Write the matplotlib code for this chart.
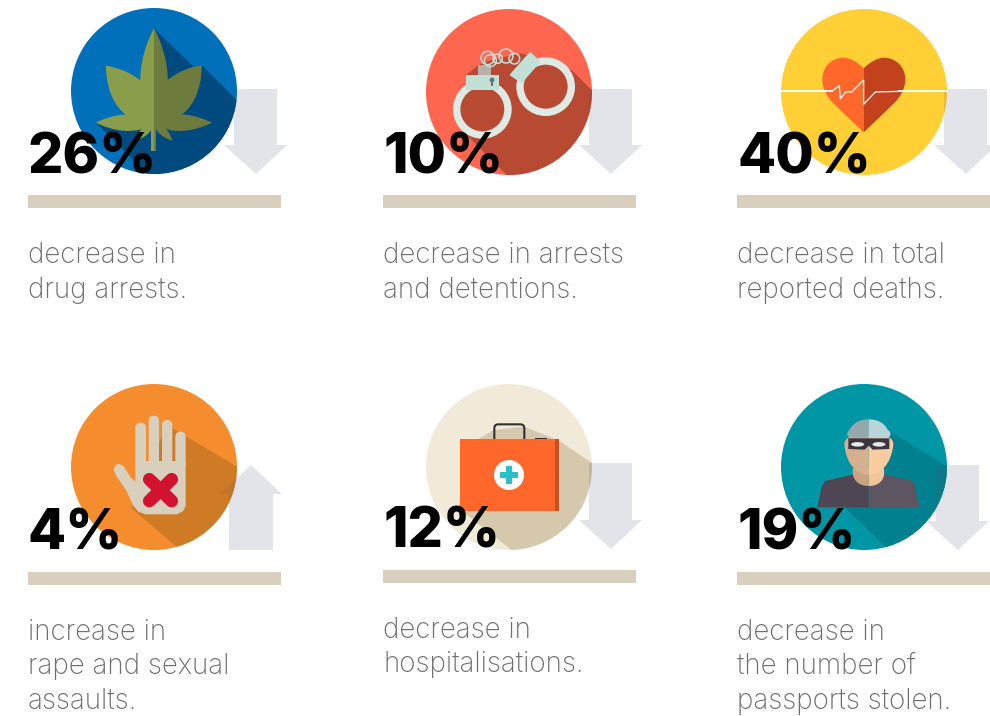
import matplotlib
matplotlib.use("Agg")
import matplotlib.pyplot as plt
from matplotlib.patches import Circle, Polygon, Rectangle, FancyBboxPatch, PathPatch, Ellipse
from matplotlib.path import Path

percents = ["26%", "10%", "40%", "4%", "12%", "19%"]
directions = ["down", "down", "down", "up", "down", "down"]
labels = [
    ["decrease in", "drug arrests."],
    ["decrease in arrests", "and detentions."],
    ["decrease in total", "reported deaths."],
    ["increase in", "rape and sexual", "assaults."],
    ["decrease in", "hospitalisations."],
    ["decrease in", "the number of", "passports stolen."],
]
circle_colors = ["#0070bb", "#ff6650", "#ffcf36", "#f58d2e", "#f2ead9", "#0096a6"]
shadow_colors = ["#004a80", "#b84a33", None, "#cf7a25", "#d6c8ad", "#01808f"]

BAR = "#d8cfbc"
ARROW = "#e3e4e9"
TEXT = "#6f6f71"
LIGHT = dict(family="Inter", weight=200)
HEAVY = dict(family="Inter", weight=800)

fig = plt.figure(figsize=(9.9, 7.16), dpi=100)
ax = fig.add_axes([0, 0, 1, 1])
ax.set_xlim(0, 990)
ax.set_ylim(716, 0)
ax.axis("off")

centers = [(154, 91), (509, 92), (864, 92), (154, 467), (509, 467), (864, 467)]
bars = [(28, 195), (383, 195), (737, 195), (28, 572), (383, 570), (737, 572)]
arrows = [(256, 89, 174), (611, 89, 174), (966, 89, 174), (251, 550, 465), (611, 463, 549), (958, 465, 550)]
zoom_orig = [(20, 0), (375, 0), (730, 0), (20, 375), (375, 375), (730, 375)]
baselines = [[263, 298], [263, 298], [263, 298], [640, 674, 709], [638, 672], [640, 674, 709]]
pct_base = [174, 174, 174, 550, 548, 550]
R = 83


def Z(i, pts):
    ox, oy = zoom_orig[i]
    return [(ox + x / 3, oy + y / 3) for x, y in pts]


def poly(i, pts, color, clip=None, z=3):
    p = Polygon(Z(i, pts), closed=True, fc=color, ec="none", zorder=z)
    ax.add_patch(p)
    if clip is not None:
        p.set_clip_path(clip)
    return p


def curve(i, verts, color, clip=None, z=3):
    pts = Z(i, verts)
    codes = [Path.MOVETO] + [Path.CURVE4] * (len(pts) - 1)
    pts = pts + [pts[0]]
    codes = codes + [Path.CLOSEPOLY]
    p = PathPatch(Path(pts, codes), fc=color, ec="none", zorder=z)
    ax.add_patch(p)
    if clip is not None:
        p.set_clip_path(clip)
    return p


def leaflet(base, tip, w):
    bx, by = base
    tx, ty = tip
    dx, dy = tx - bx, ty - by
    L = (dx * dx + dy * dy) ** 0.5
    nx, ny = -dy / L, dx / L
    a1 = (bx + .3 * dx + nx * w, by + .3 * dy + ny * w)
    a2 = (bx + .75 * dx + nx * w * .55, by + .75 * dy + ny * w * .55)
    b1 = (bx + .75 * dx - nx * w * .55, by + .75 * dy - ny * w * .55)
    b2 = (bx + .3 * dx - nx * w, by + .3 * dy - ny * w)
    return [base, a1, a2, tip, b1, b2, base]


# ---------- arrows, circles, bars ----------
clips = []
for i, (cx, cy) in enumerate(centers):
    ax_, y0, y1 = arrows[i]
    if directions[i] == "down":
        y_head = y1 - 29
        pts = [(ax_ - 22, y0), (ax_ + 21, y0), (ax_ + 21, y_head), (ax_ + 31, y_head),
               (ax_, y1), (ax_ - 32, y_head), (ax_ - 22, y_head)]
    else:
        y_head = y1 + 29
        pts = [(ax_ - 22, y0), (ax_ + 22, y0), (ax_ + 22, y_head), (ax_ + 31, y_head),
               (ax_, y1), (ax_ - 31, y_head), (ax_ - 22, y_head)]
    ax.add_patch(Polygon(pts, closed=True, fc=ARROW, ec="none", zorder=1))
    circ = Circle((cx, cy), R, fc=circle_colors[i], ec="none", zorder=2)
    ax.add_patch(circ)
    clips.append(circ)
    over = Polygon(pts, closed=True, fc="#555566", alpha=.14, ec="none", zorder=2.9)
    ax.add_patch(over)
    over.set_clip_path(circ)
    bx, by = bars[i]
    ax.add_patch(Rectangle((bx, by), 253, 13, fc=BAR, ec="none", zorder=1))

# ---------- panel 0: leaf ----------
i = 0
poly(i, [(402, 85), (520, 200), (545, 195), (660, 310), (660, 540), (390, 530), (228, 368), (330, 360), (402, 300)],
     shadow_colors[i], clips[i], 2.5)
LL, LR = "#8a9d4b", "#6d7c3d"
leaves = [((402, 368), (258, 197), 88), ((402, 368), (545, 195), 88),
          ((402, 368), (228, 368), 42), ((402, 368), (575, 368), 42),
          ((402, 368), (345, 422), 20), ((402, 368), (457, 422), 20)]
for base, tip, w in leaves:
    curve(i, leaflet(base, tip, w), LR if tip[0] > 402 else LL, z=3)
curve(i, [(402, 368), (335, 290), (360, 160), (402, 85), (402, 85), (402, 368), (402, 368)], LL, z=3.1)
curve(i, [(402, 368), (469, 290), (444, 160), (402, 85), (402, 85), (402, 368), (402, 368)], LR, z=3.1)
poly(i, [(394, 368), (402, 368), (402, 452), (394, 452)], LL)
poly(i, [(402, 368), (408, 368), (408, 452), (402, 452)], LR)

# ---------- panel 1: handcuffs ----------
i = 1
poly(i, [(310, 195), (355, 178), (440, 160), (590, 210), (660, 280), (660, 540), (400, 530), (260, 390), (240, 328), (274, 270), (274, 224)],
     shadow_colors[i], clips[i], 2.5)
for c in [(322, 328), (512, 260)]:
    x, y = Z(i, [c])[0]
    ax.add_patch(Circle((x, y), 77 / 3, fc="none", ec="#dfeae4", lw=5.3, zorder=3))
x, y = Z(i, [(310, 195)])[0]
ax.add_patch(Rectangle((x, y), 38 / 3, 30 / 3, fc="#b9aea6", ec="none", zorder=3))
poly(i, [(274, 224), (372, 224), (372, 270), (274, 270)], "#c3e0d6")
poly(i, [(403, 225), (465, 155), (497, 185), (440, 250)], "#c3e0d6")
for c, r in [((338, 174), 20), ((346, 182), 18), ((393, 168), 21), ((418, 176), 16), ((368, 176), 14)]:
    x, y = Z(i, [c])[0]
    ax.add_patch(Circle((x, y), r / 3, fc="none", ec="#c3e0d6", lw=1.1, zorder=3.1))
x, y = Z(i, [(351, 240)])[0]
ax.add_patch(Circle((x, y), 2.4, fc="#5f7478", ec="none", zorder=3.2))
ax.add_patch(Rectangle((x - 1, y), 2, 6, fc="#5f7478", ec="none", zorder=3.2))

# ---------- panel 2: heart ----------
i = 2
curve(i, [(401, 205), (380, 185), (360, 173), (338, 173), (300, 175), (277, 205), (277, 238),
          (277, 265), (290, 290), (310, 310), (340, 340), (370, 367), (401, 397),
          (401, 397), (401, 205), (401, 205)], "#ff672b")
curve(i, [(401, 205), (422, 185), (442, 173), (464, 173), (502, 175), (526, 205), (526, 238),
          (526, 265), (512, 290), (492, 310), (462, 340), (432, 367), (401, 397),
          (401, 397), (401, 205), (401, 205)], "#c4411e")
ax.plot(*zip(*Z(i, [(150, 274), (310, 274)])), color="white", lw=1.4, zorder=3.5, solid_capstyle="butt")
ax.plot(*zip(*Z(i, [(505, 274), (651, 274)])), color="white", lw=1.4, zorder=3.5, solid_capstyle="butt")
ax.plot(*zip(*Z(i, [(305, 274), (328, 257), (331, 296), (347, 276), (365, 276), (401, 240), (401, 313), (436, 276), (510, 274)])),
        color="white", lw=.9, zorder=3.5)

# ---------- panel 3: hand ----------
i = 3
HAND = "#d8cfbc"
poly(i, [(440, 150), (660, 280), (660, 600), (475, 520), (335, 400)], shadow_colors[i], clips[i], 2.5)
for x0, x1, top in [(346, 378, 143), (386, 417, 122), (426, 457, 135), (466, 497, 170)]:
    x, y = Z(i, [(x0, top)])[0]
    w = (x1 - x0) / 3
    h = (280 - top) / 3
    ax.add_patch(FancyBboxPatch((x + w / 2, y + w / 2), 0, h - w, boxstyle=f"round,pad={w/2}", fc=HAND, ec="none", zorder=3))
poly(i, [(346, 258), (497, 258), (497, 392), (490, 408), (470, 418), (375, 418), (355, 410), (340, 392), (318, 345),
         (290, 305), (281, 285), (285, 272), (298, 266), (312, 275), (330, 305), (346, 320)], HAND)
for a, b in [((388, 313), (455, 378)), ((455, 313), (388, 378))]:
    ax.plot(*zip(*Z(i, [a, b])), color="#d2122e", lw=9.2, solid_capstyle="round", zorder=3.3)

# ---------- panel 4: medical kit ----------
i = 4
poly(i, [(310, 192), (356, 165), (447, 155), (552, 197), (660, 270), (660, 540), (410, 525), (250, 400)], shadow_colors[i], clips[i], 2.5)
x, y = Z(i, [(358, 148)])[0]
ax.add_patch(FancyBboxPatch((x + 4, y + 4), 22, 20, boxstyle="round,pad=4", fc="none", ec="#2f3033", lw=1.5, zorder=3))
poly(i, [(480, 188), (516, 188), (516, 192), (480, 192)], "#2f3033")
poly(i, [(256, 192), (552, 192), (552, 407), (256, 407)], "#ff672b", z=3.1)
poly(i, [(540, 192), (552, 192), (552, 407), (540, 407)], "#c84f20", z=3.2)
x, y = Z(i, [(402, 300)])[0]
ax.add_patch(Circle((x, y), 15, fc="white", ec="none", zorder=3.3))
poly(i, [(375, 291), (393, 291), (393, 272), (411, 272), (411, 291), (430, 291), (430, 309), (411, 309),
         (411, 327), (393, 327), (393, 309), (375, 309)], "#2bbfc7", z=3.4)

# ---------- panel 5: thief ----------
i = 5
poly(i, [(480, 170), (660, 280), (660, 600), (470, 520), (345, 397)], shadow_colors[i], clips[i], 2.5)
poly(i, [(416, 298), (370, 298), (285, 318), (275, 335), (262, 397), (416, 397)], "#4e4652")
poly(i, [(416, 298), (460, 298), (548, 318), (555, 335), (568, 397), (416, 397)], "#5d5561")
curve(i, [(416, 333), (385, 333), (365, 315), (368, 280), (400, 280), (416, 280), (416, 280), (416, 333), (416, 333), (416, 333)], "#c9a481", z=3.1)
curve(i, [(416, 333), (447, 333), (467, 315), (462, 280), (430, 280), (416, 280), (416, 280), (416, 333), (416, 333), (416, 333)], "#f0c69b", z=3.1)
curve(i, [(416, 180), (380, 180), (343, 180), (343, 208), (348, 265), (378, 299), (416, 299), (416, 299), (416, 180), (416, 180)], "#d4b08c", z=3.2)
curve(i, [(416, 180), (452, 180), (490, 180), (490, 208), (484, 265), (454, 299), (416, 299), (416, 299), (416, 180), (416, 180)], "#f8cc9f", z=3.2)
curve(i, [(416, 133), (385, 133), (362, 148), (355, 175), (355, 178), (416, 178), (416, 178), (416, 178), (416, 133), (416, 133)], "#95a8ad", z=3.3)
curve(i, [(416, 133), (447, 133), (470, 148), (477, 175), (477, 178), (416, 178), (416, 178), (416, 178), (416, 133), (416, 133)], "#b9d5da", z=3.3)
x, y = Z(i, [(352, 166)])[0]
ax.add_patch(FancyBboxPatch((x + 3, y + 3), 15.3, 1.2, boxstyle="round,pad=3", fc="#95a8ad", ec="none", zorder=3.3))
x, y = Z(i, [(416, 166)])[0]
ax.add_patch(FancyBboxPatch((x + 3, y + 3), 15.7, 1.2, boxstyle="round,pad=3", fc="#b9d5da", ec="none", zorder=3.3))
poly(i, [(416, 166), (425, 166), (425, 187), (416, 187)], "#b9d5da", z=3.31)
poly(i, [(355, 190), (478, 190), (478, 222), (428, 224), (416, 212), (404, 224), (355, 222)], "#3a3540", z=3.4)
for c in [(383, 208), (447, 208)]:
    x, y = Z(i, [c])[0]
    ax.add_patch(Ellipse((x, y), 13, 4.5, fc="#e8e8e8", ec="none", zorder=3.5))

# ---------- text ----------
for i in range(6):
    bx, _ = bars[i]
    ax.text(bx, pct_base[i], percents[i], fontsize=40, color="black", ha="left", va="baseline", zorder=6, **HEAVY)
    for line, yb in zip(labels[i], baselines[i]):
        ax.text(bx, yb, line, fontsize=20, color=TEXT, ha="left", va="baseline", zorder=6, **LIGHT)

fig.savefig("out.png", dpi=100, facecolor="white")
